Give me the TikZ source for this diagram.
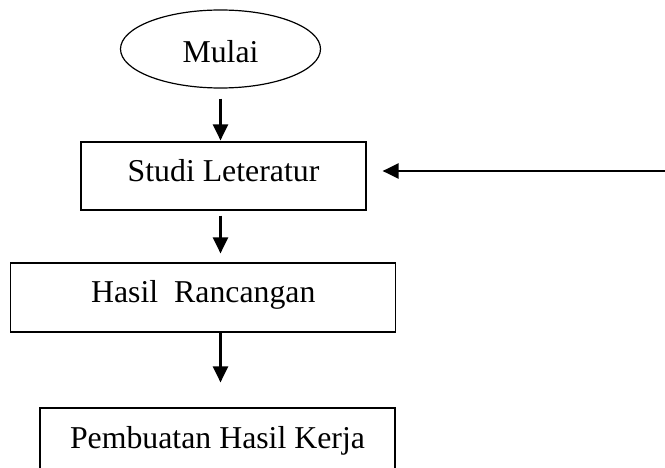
\documentclass[tikz,border=0pt]{standalone}
\usepackage{fontspec}
\setmainfont{Liberation Serif}
\usetikzlibrary{shapes.geometric,arrows.meta}
\begin{document}
\begin{tikzpicture}[x=1pt,y=-1pt,
  every node/.style={font=\fontsize{31.8}{38}\selectfont, inner sep=0pt, line width=1.2pt},
  procbox/.style={draw, rectangle},
  startnode/.style={draw, ellipse, minimum width=200pt, minimum height=78pt, text height=27pt, text depth=0pt},
  arr/.style={line width=2.2pt, -{Triangle[length=16pt,width=15pt]}}
]
\useasboundingbox (0,0) rectangle (665,468);
\node[startnode] (mulai) at (220.5,49) {Mulai};
\node[procbox, minimum width=285pt, minimum height=68pt, text height=20pt, text depth=8pt] (studi) at (223.5,176) {Studi Leteratur};
\node[procbox, minimum width=385pt, minimum height=69pt, text height=19pt, text depth=8pt] (hasil) at (203.3,297.5) {Hasil\ \ Rancangan};
\node[procbox, minimum width=355pt, minimum height=80pt, text height=11pt, text depth=11pt] (pemb) at (217.5,448) {Pembuatan Hasil Kerja};
\coordinate (src) at (665,171);
\draw[arr, shorten <=10pt, shorten >=1pt] (mulai.south) -- (mulai.south |- studi.north);
\draw[arr, shorten <=5pt, shorten >=9pt] (mulai.south |- studi.south) -- (mulai.south |- hasil.north);
\draw[arr, shorten >=25pt] (mulai.south |- hasil.south) -- (mulai.south |- pemb.north);
\draw[arr, shorten >=16pt] (src) -- (src -| studi.east);
\end{tikzpicture}
\end{document}
